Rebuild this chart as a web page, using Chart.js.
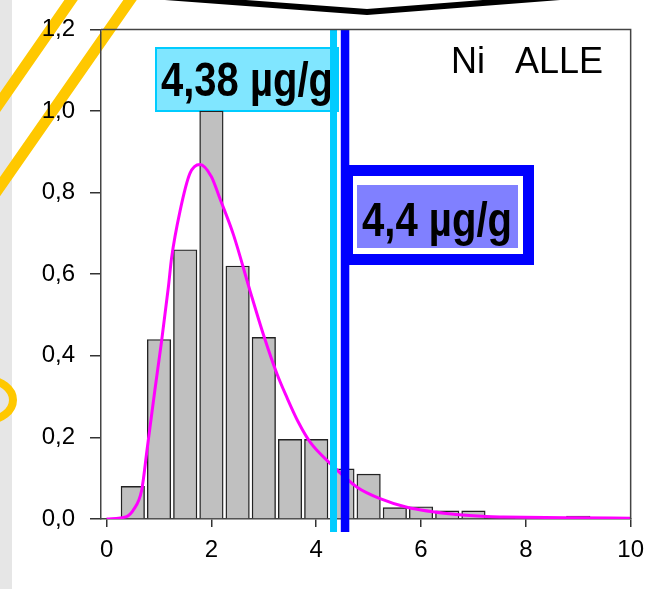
<!DOCTYPE html>
<html>
<head>
<meta charset="utf-8">
<script src="https://cdn.jsdelivr.net/npm/chart.js@4.4.1/dist/chart.umd.min.js"></script>
<style>
  html, body { margin: 0; padding: 0; background: #fff; }
  canvas { display: block; }
</style>
</head>
<body>
<canvas id="histo" width="653" height="589"></canvas>
<script>
// histogram bins (centre of each 0.5 wide class) and relative frequencies
const binCenters = [0.5, 1.0, 1.5, 2.0, 2.5, 3.0, 3.5, 4.0, 4.5, 5.0, 5.5, 6.0, 6.5, 7.0, 8.0, 9.0];
const binValues  = [0.08, 0.44, 0.66, 1.0, 0.62, 0.445, 0.195, 0.195, 0.123, 0.11, 0.028, 0.03, 0.02, 0.02, 0.005, 0.007];

// fitted density curve
const curveX = [0, 0.38, 0.51, 0.67, 0.77, 0.92, 1.05, 1.18, 1.24, 1.4, 1.59, 1.78, 2.0, 2.16, 2.42, 2.74, 2.99, 3.25, 3.44, 3.66, 3.88, 4.26, 4.78, 5.22, 5.73, 6.68, 7.25, 7.57, 8.84, 10];
const curveY = [0, 0.006, 0.022, 0.071, 0.168, 0.315, 0.437, 0.57, 0.64, 0.754, 0.847, 0.869, 0.839, 0.786, 0.697, 0.558, 0.453, 0.356, 0.298, 0.237, 0.189, 0.137, 0.078, 0.05, 0.029, 0.011, 0.006, 0.005, 0.003, 0.002];

// reference values (vertical lines) and their labels
const refLines  = [4.33, 4.55];
const refLabels = ['4,38 µg/g', '4,4 µg/g'];

const xTicks = [0, 2, 4, 6, 8, 10];
const yTicks = [0, 0.2, 0.4, 0.6, 0.8, 1.0, 1.2];
const title = 'Ni   ALLE';

const FONT = "'Liberation Sans', Arial, sans-serif";

function condensedText(ctx, txt, x, y, width) {
  ctx.save();
  ctx.font = 'bold 48px ' + FONT;
  const w = ctx.measureText(txt).width;
  ctx.translate(x, y);
  ctx.scale(width / w, 1);
  ctx.fillStyle = '#000';
  ctx.textBaseline = 'alphabetic';
  ctx.fillText(txt, 0, 0);
  ctx.restore();
}

const decor = {
  id: 'decor',
  beforeDraw(chart) {
    const ctx = chart.ctx;
    ctx.save();
    // grey strip at the left
    ctx.fillStyle = '#e6e6e6';
    ctx.fillRect(0, 0, 12, chart.height);
    // yellow strokes
    ctx.strokeStyle = '#ffc800';
    ctx.lineWidth = 11;
    ctx.beginPath();
    ctx.moveTo(78, -10); ctx.lineTo(-8, 114);
    ctx.moveTo(137, -10); ctx.lineTo(-8, 198);
    ctx.stroke();
    ctx.lineWidth = 8;
    ctx.beginPath();
    ctx.ellipse(-13, 400, 26, 20, 0, 0, Math.PI * 2);
    ctx.stroke();
    // black shape at the top
    ctx.strokeStyle = '#000';
    ctx.lineWidth = 6;
    ctx.beginPath();
    ctx.moveTo(165, -3); ctx.lineTo(367, 12); ctx.lineTo(560, -3);
    ctx.stroke();
    ctx.restore();
  },
  beforeDatasetsDraw(chart) {
    const ctx = chart.ctx;
    ctx.save();
    ctx.fillStyle = '#80e6ff';
    ctx.fillRect(155, 47, 184, 65);
    ctx.strokeStyle = '#00ccff';
    ctx.lineWidth = 2;
    ctx.strokeRect(156, 48, 182, 63);
    ctx.restore();
    condensedText(ctx, refLabels[0], 161, 96, 172);
  },
  afterDatasetsDraw(chart) {
    const ctx = chart.ctx;
    const a = chart.chartArea;
    ctx.save();
    // frame top and right
    ctx.strokeStyle = '#444';
    ctx.lineWidth = 1.5;
    ctx.beginPath();
    ctx.moveTo(a.left, a.top); ctx.lineTo(a.right, a.top); ctx.lineTo(a.right, a.bottom);
    ctx.stroke();
    // blue label box
    ctx.fillStyle = '#fff';
    ctx.fillRect(345, 168, 186, 94);
    ctx.strokeStyle = '#0000ff';
    ctx.lineWidth = 11;
    ctx.strokeRect(347.5, 170.5, 181, 89);
    ctx.fillStyle = '#8080ff';
    ctx.fillRect(357, 185, 161, 63);
    ctx.restore();
    condensedText(ctx, refLabels[1], 362, 236, 150);
    // title
    ctx.save();
    ctx.font = '36px ' + FONT;
    ctx.fillStyle = '#000';
    ctx.fillText(title, 451, 73);
    ctx.restore();
  }
};

const refColors = ['#00ccff', '#0000ff'];
const refWidths = [7, 8.5];

new Chart(document.getElementById('histo'), {
  type: 'bar',
  data: {
    datasets: [
      ...refLines.map((v, i) => ({
        type: 'line',
        data: [{ x: v, y: -0.032 }, { x: v, y: 1.2 }],
        borderColor: refColors[i],
        borderWidth: refWidths[i],
        borderCapStyle: 'butt',
        pointRadius: 0,
        clip: false,
        order: 0
      })),
      {
        type: 'line',
        data: curveX.map((x, i) => ({ x: x, y: curveY[i] })),
        borderColor: '#ff00ff',
        borderWidth: 3,
        pointRadius: 0,
        cubicInterpolationMode: 'monotone',
        order: 1
      },
      {
        type: 'bar',
        data: binCenters.map((x, i) => ({ x: x, y: binValues[i] })),
        backgroundColor: '#c0c0c0',
        borderColor: '#222',
        borderWidth: 1.4,
        barThickness: 23.5,
        order: 2
      }
    ]
  },
  options: {
    responsive: false,
    animation: false,
    layout: { padding: { top: 26, right: 22, left: 0, bottom: 0 } },
    plugins: { legend: { display: false }, tooltip: { enabled: false } },
    scales: {
      x: {
        type: 'linear',
        min: -0.107,
        max: 10,
        offset: false,
        afterBuildTicks: s => { s.ticks = xTicks.map(v => ({ value: v })); },
        afterFit: s => { s.height = 70; },
        grid: { offset: false, drawOnChartArea: false, drawTicks: true, tickLength: 8, color: '#333', lineWidth: 1.5 },
        border: { display: true, color: '#444', width: 1.5 },
        ticks: { color: '#000', font: { family: FONT, size: 24 }, padding: 9, maxRotation: 0 }
      },
      y: {
        min: 0,
        max: 1.2,
        afterBuildTicks: s => { s.ticks = yTicks.map(v => ({ value: v })); },
        afterFit: s => { s.width = 101; },
        grid: { drawOnChartArea: false, drawTicks: true, tickLength: 11, color: '#333', lineWidth: 1.5 },
        border: { display: true, color: '#444', width: 1.5 },
        ticks: {
          color: '#000',
          font: { family: FONT, size: 24 },
          padding: 15,
          callback: v => v.toFixed(1).replace('.', ',')
        }
      }
    }
  },
  plugins: [decor]
});
</script>
</body>
</html>
